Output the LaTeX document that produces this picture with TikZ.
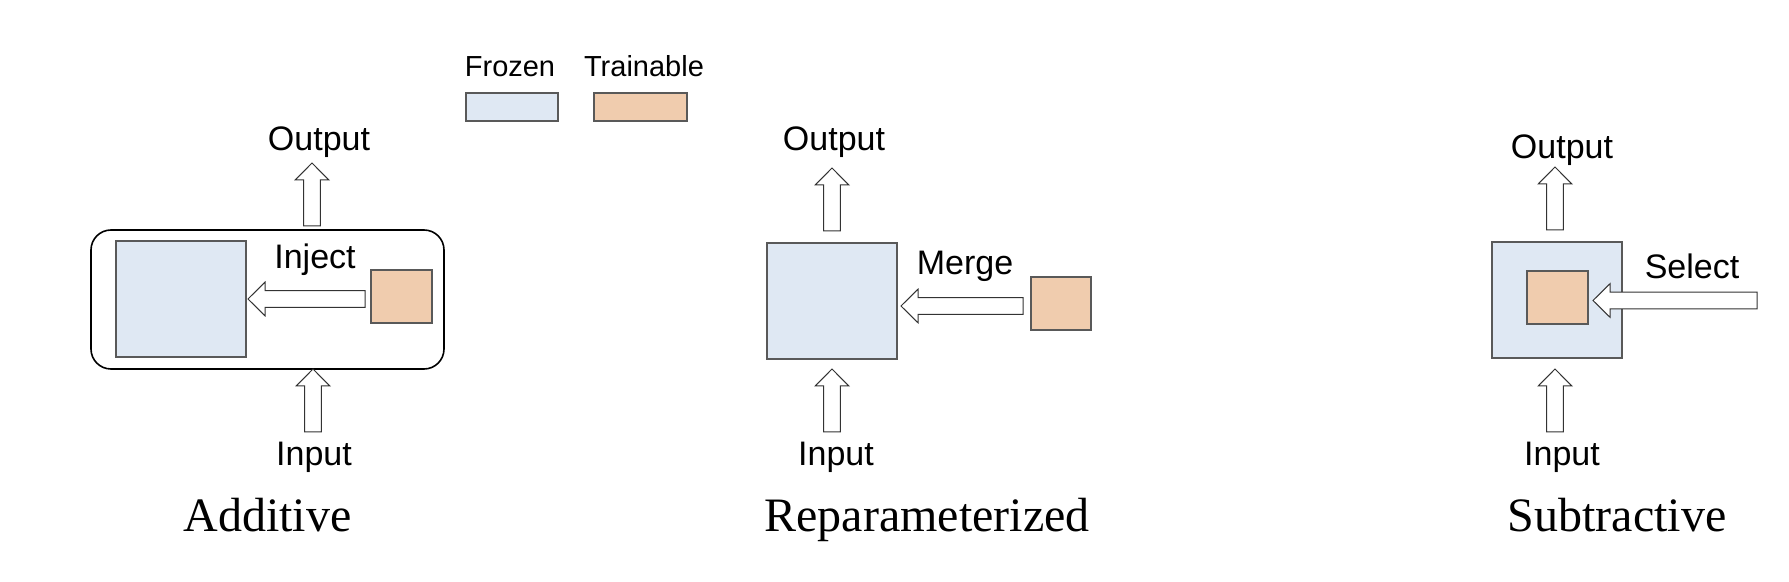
\documentclass[tikz,border=0pt]{standalone}
\usepackage{fontspec}
\setmainfont{Liberation Sans}
\newfontfamily\seriffont{Liberation Serif}
\usetikzlibrary{calc}
\definecolor{frozenc}{HTML}{DFE8F3}
\definecolor{trainc}{HTML}{F0CCAE}
\definecolor{edgec}{HTML}{595959}
\tikzset{
  frozenbox/.style={draw=edgec, fill=frozenc, line width=0.6pt, inner sep=0pt, minimum width=65pt, minimum height=58pt},
  trainbox/.style={draw=edgec, fill=trainc, line width=0.6pt, inner sep=0pt, minimum width=30.5pt, minimum height=26.5pt},
  legbox/.style={draw=edgec, line width=0.6pt, inner sep=0pt, minimum width=46pt, minimum height=14pt},
  framebox/.style={draw=black, line width=0.8pt, rounded corners=10pt, inner sep=0pt, minimum width=176.5pt, minimum height=69.5pt},
  lbl/.style={font=\fontsize{17}{20}\selectfont, inner sep=0pt, anchor=base},
  leglbl/.style={font=\fontsize{14.5}{17}\selectfont, inner sep=0pt, anchor=base},
  ttl/.style={font=\seriffont\fontsize{24}{28}\selectfont, inner sep=0pt, anchor=base},
  blockar/.style={draw=black!80, fill=white, line width=0.5pt, line join=miter},
}
% block arrow from #1 (tail) to #2 (tip)
\newcommand\blockarrow[2]{%
  \path ($(#2)!8.5pt!(#1)$) coordinate (ab);
  \draw[blockar] ($(#1)!4.2pt!-90:(#2)$) -- ($(ab)!4.2pt!90:(#1)$) -- ($(ab)!8.4pt!90:(#1)$) -- (#2)
     -- ($(ab)!8.4pt!-90:(#1)$) -- ($(ab)!4.2pt!-90:(#1)$) -- ($(#1)!4.2pt!90:(#2)$) -- cycle;}
\begin{document}
\begin{tikzpicture}[x=0.5pt, y=-0.5pt]
\useasboundingbox (0,0) rectangle (1789,582);

% ---------- legend ----------
\node[legbox, fill=frozenc] (legF) at (512,107) {};
\node[legbox, fill=trainc, minimum width=46.5pt] (legT) at (640.5,107) {};
\node[leglbl] (legFt) at (510,77) {Frozen};
\node[leglbl] (legTt) at (644,77) {Trainable};

% ---------- Additive ----------
\node[framebox] (addbox) at (267.5,299.5) {};
\node[frozenbox] (frozA) at (181,299) {};
\node[trainbox] (trainA) at (401.5,296.5) {};
\node[lbl] (injT) at (315,269) {Inject};
\node[lbl] (outA) at (319,151) {Output};
\node[lbl] (inA) at (314,466) {Input};
\node[ttl] (ttlA) at (267.5,531) {Additive};
\coordinate (injTail) at (365,299);
\coordinate (injTip) at (248,299);
\blockarrow{injTail}{injTip}
\coordinate (oAtail) at (312,226);
\coordinate (oAtip) at (312,163);
\blockarrow{oAtail}{oAtip}
\coordinate (iAtail) at (313,432);
\coordinate (iAtip) at (313,369);
\blockarrow{iAtail}{iAtip}

% ---------- Reparameterized ----------
\node[frozenbox] (frozR) at (832,301) {};
\node[trainbox, minimum width=30pt] (trainR) at (1061,303.5) {};
\node[lbl] (mergeT) at (965,275) {Merge};
\node[lbl] (outR) at (834,151) {Output};
\node[lbl] (inR) at (836,466) {Input};
\node[ttl] (ttlR) at (927,531) {Reparameterized};
\coordinate (mTail) at (1023,306);
\coordinate (mTip) at (901,306);
\blockarrow{mTail}{mTip}
\coordinate (oRtail) at (832,231);
\coordinate (oRtip) at (832,168);
\blockarrow{oRtail}{oRtip}
\coordinate (iRtail) at (832,432);
\coordinate (iRtip) at (832,369);
\blockarrow{iRtail}{iRtip}

% ---------- Subtractive ----------
\node[frozenbox] (frozS) at (1557,300) {};
\node[trainbox] (trainS) at (1557.5,297.5) {};
\node[lbl] (selT) at (1692,279) {Select};
\node[lbl] (outS) at (1562,159) {Output};
\node[lbl] (inS) at (1562,466) {Input};
\node[ttl] (ttlS) at (1617,531) {Subtractive};
\coordinate (sTail) at (1757,300.5);
\coordinate (sTip) at (1593,300.5);
\blockarrow{sTail}{sTip}
\coordinate (oStail) at (1555,230);
\coordinate (oStip) at (1555,167);
\blockarrow{oStail}{oStip}
\coordinate (iStail) at (1555,432);
\coordinate (iStip) at (1555,369);
\blockarrow{iStail}{iStip}
\end{tikzpicture}
\end{document}
